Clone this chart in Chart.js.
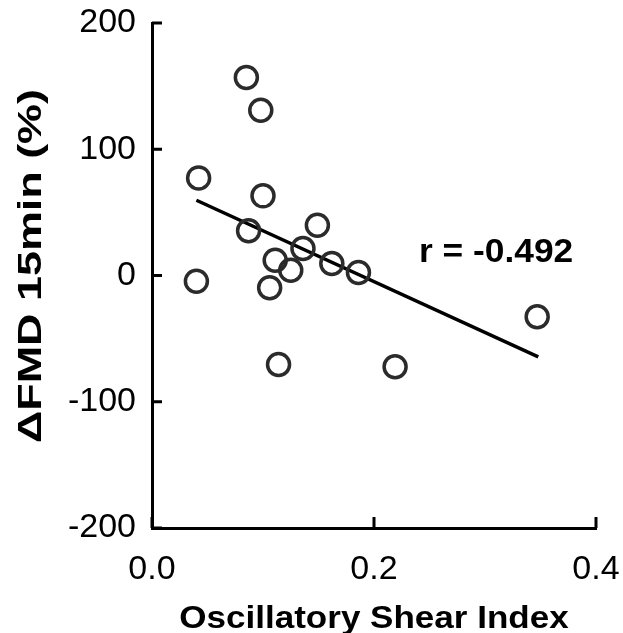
<!DOCTYPE html>
<html>
<head>
<meta charset="utf-8">
<script src="https://cdn.jsdelivr.net/npm/chart.js@4"></script>
<style>
  body { margin: 0; background: #fff; }
  #wrap { width: 623px; height: 633px; position: relative; }
</style>
</head>
<body>
<div id="wrap"><canvas id="chart"></canvas></div>
<script>
const oshX = [0.085, 0.098, 0.042, 0.100, 0.087, 0.149, 0.136, 0.111, 0.125, 0.162, 0.040, 0.106, 0.114, 0.186, 0.219, 0.347];
const fmdY = [156.8, 130.9, 77.3, 63.1, 35.4, 39.8, 21.4, 12.1, 4.2, 9.5, -4.5, -9.7, -70.5, 2.4, -72.3, -32.7];
const fitX = [0.040, 0.348];
const fitY = [59.6, -64.4];
const xTicks = [0.0, 0.2, 0.4];
const yTicks = [-200, -100, 0, 100, 200];
const rText = 'r = -0.492';
const xTitle = 'Oscillatory Shear Index';
const yTitle = '\u0394FMD 15min (%)';

const FONT = "'Liberation Sans', Arial, sans-serif";

const points = oshX.map((x, i) => ({ x: x, y: fmdY[i] }));
const fitLine = fitX.map((x, i) => ({ x: x, y: fitY[i] }));

// inward tick marks, titles and the r label
const extras = {
    id: 'extras',
    afterDraw(chart) {
        const ctx = chart.ctx;
        const xs = chart.scales.x, ys = chart.scales.y;
        const area = chart.chartArea;
        ctx.save();
        ctx.strokeStyle = '#000';
        ctx.lineWidth = 3;
        ctx.beginPath();
        yTicks.forEach(v => {
            const py = ys.getPixelForValue(v);
            ctx.moveTo(area.left, py);
            ctx.lineTo(area.left + 10, py);
        });
        xTicks.forEach(v => {
            const px = xs.getPixelForValue(v);
            ctx.moveTo(px, area.bottom);
            ctx.lineTo(px, area.bottom - 11);
        });
        ctx.stroke();

        ctx.fillStyle = '#000';
        ctx.textAlign = 'center';
        ctx.textBaseline = 'alphabetic';

        // r label
        ctx.save();
        ctx.translate(xs.getPixelForValue(0.310), ys.getPixelForValue(11));
        ctx.scale(1.07, 1);
        ctx.font = 'bold 33px ' + FONT;
        ctx.fillText(rText, 0, 0);
        ctx.restore();

        // x title
        ctx.save();
        ctx.translate((area.left + area.right) / 2, 628);
        ctx.scale(1.13, 1);
        ctx.font = 'bold 31px ' + FONT;
        ctx.fillText(xTitle, 0, 0);
        ctx.restore();

        // y title
        ctx.save();
        ctx.translate(41, 266);
        ctx.rotate(-Math.PI / 2);
        ctx.scale(1.32, 1);
        ctx.font = 'bold 34px ' + FONT;
        ctx.fillText(yTitle, 0, 0);
        ctx.restore();

        ctx.restore();
    }
};

const noPad = (s) => { s.paddingTop = 0; s.paddingBottom = 0; s.paddingLeft = 0; s.paddingRight = 0; };

const config = {
    type: 'scatter',
    data: {
        datasets: [
            {
                label: 'fit',
                type: 'line',
                data: fitLine,
                borderColor: '#000',
                borderWidth: 3.5,
                pointRadius: 0,
                fill: false,
                order: 2
            },
            {
                label: 'subjects',
                data: points,
                pointStyle: 'circle',
                pointRadius: 11,
                pointHoverRadius: 11,
                borderWidth: 3.5,
                borderColor: '#2b2b2b',
                backgroundColor: 'rgba(255,255,255,0)',
                order: 1
            }
        ]
    },
    options: {
        responsive: true,
        maintainAspectRatio: false,
        animation: false,
        events: [],
        layout: { padding: { top: 23, right: 27, left: 0, bottom: 0 } },
        plugins: {
            legend: { display: false },
            tooltip: { enabled: false }
        },
        scales: {
            x: {
                type: 'linear',
                min: 0,
                max: 0.4,
                afterBuildTicks: (s) => { s.ticks = xTicks.map(v => ({ value: v })); },
                afterFit: (s) => { s.height = 105; noPad(s); },
                ticks: {
                    color: '#000',
                    padding: 21,
                    font: { family: FONT, size: 34 },
                    callback: (v) => Number(v).toFixed(1)
                },
                grid: { drawOnChartArea: false, drawTicks: false, color: 'rgba(0,0,0,0)' },
                border: { display: true, color: '#000', width: 3 }
            },
            y: {
                type: 'linear',
                min: -200,
                max: 200,
                afterBuildTicks: (s) => { s.ticks = yTicks.map(v => ({ value: v })); },
                afterFit: (s) => { s.width = 152; noPad(s); },
                ticks: {
                    color: '#000',
                    padding: 16,
                    font: { family: FONT, size: 34 }
                },
                grid: { drawOnChartArea: false, drawTicks: false, color: 'rgba(0,0,0,0)' },
                border: { display: true, color: '#000', width: 3 }
            }
        }
    },
    plugins: [extras]
};

const chart = new Chart(document.getElementById('chart'), config);
</script>
</body>
</html>
